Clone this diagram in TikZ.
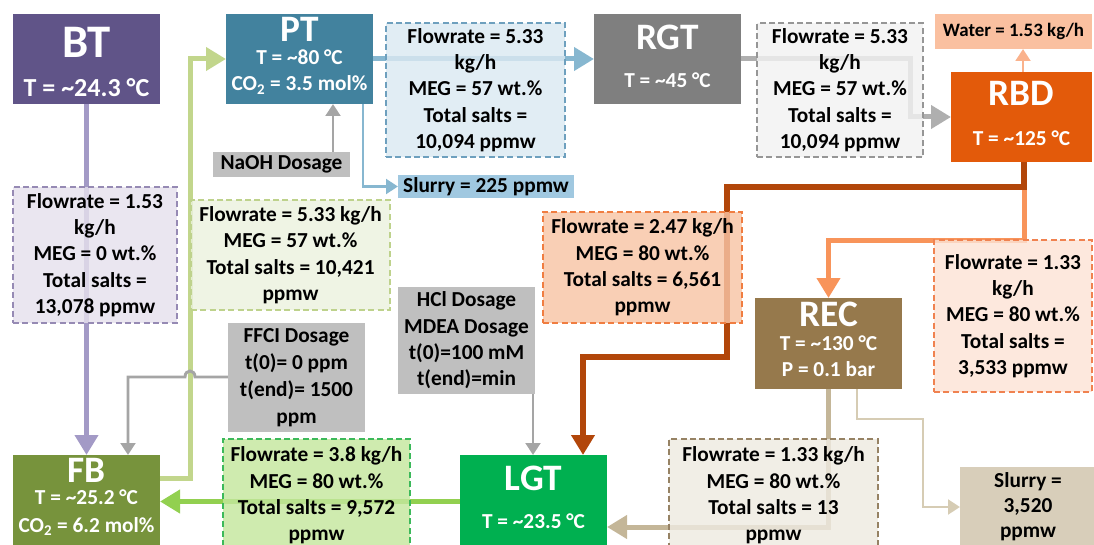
\documentclass[tikz,border=0pt]{standalone}
\usepackage{fontspec}
\setmainfont{Carlito}
\usetikzlibrary{arrows.meta,fit,calc}
\pgfdeclarelayer{bg}
\pgfsetlayers{bg,main}
\definecolor{cBT}{RGB}{96,84,136}
\definecolor{cBTl}{RGB}{163,154,198}
\definecolor{cBTf}{RGB}{229,224,237}
\definecolor{cBTd}{RGB}{150,138,180}
\definecolor{cPT}{RGB}{66,130,158}
\definecolor{cPTl}{RGB}{135,183,208}
\definecolor{cPTf}{RGB}{219,233,242}
\definecolor{cPTd}{RGB}{110,160,190}
\definecolor{cSl}{RGB}{160,200,224}
\definecolor{cRGT}{RGB}{127,127,127}
\definecolor{cRGTl}{RGB}{175,175,175}
\definecolor{cRGTf}{RGB}{242,242,242}
\definecolor{cRGTd}{RGB}{150,150,150}
\definecolor{cRBD}{RGB}{227,90,10}
\definecolor{cWat}{RGB}{250,192,160}
\definecolor{cWatl}{RGB}{250,178,140}
\definecolor{cBrn}{RGB}{178,70,10}
\definecolor{cOrf}{RGB}{248,196,165}
\definecolor{cOrd}{RGB}{240,125,65}
\definecolor{cOrl}{RGB}{248,148,90}
\definecolor{cREC}{RGB}{150,121,76}
\definecolor{cRECf}{RGB}{252,227,213}
\definecolor{cRECd}{RGB}{240,130,80}
\definecolor{cTan}{RGB}{196,182,152}
\definecolor{cTanl}{RGB}{214,204,180}
\definecolor{cSlb}{RGB}{216,206,186}
\definecolor{cTanf}{RGB}{238,234,225}
\definecolor{cTand}{RGB}{150,130,100}
\definecolor{cLGT}{RGB}{0,176,80}
\definecolor{cLGTl}{RGB}{146,208,80}
\definecolor{cLGTf}{RGB}{196,230,158}
\definecolor{cLGTd}{RGB}{60,185,90}
\definecolor{cFB}{RGB}{119,147,60}
\definecolor{cFBl}{RGB}{194,214,140}
\definecolor{cFBf}{RGB}{235,241,222}
\definecolor{cFBd}{RGB}{190,210,140}
\definecolor{cDos}{RGB}{191,191,191}
\definecolor{cDosl}{RGB}{165,165,165}
\begin{document}
\begin{tikzpicture}[x=0.75pt,y=-0.75pt,
  box/.style={inner sep=0pt, outer sep=0pt},
  unit/.style={box, fill=#1},
  flow/.style 2 args={box, fill=#1, draw=#2, line width=1.1pt, dash pattern=on 4.5pt off 2.5pt, fill opacity=0.82},
  plain/.style={box, fill=#1},
  txt/.style={inner sep=0pt, align=center, font=\bfseries\fontsize{16}{19.8}\selectfont},
  ttl/.style={inner sep=0pt, anchor=base, text=white, font=\bfseries\fontsize{28}{30}\selectfont},
  sub/.style={inner sep=0pt, anchor=base, text=white, font=\bfseries\fontsize{16}{18}\selectfont},
  bigarrow/.style={-{Triangle[width=17pt,length=15pt]}},
  smallarrow/.style={-{Triangle[width=11pt,length=9pt]}},
  thick5/.style={line width=3.75pt},
  thin3/.style={line width=2.2pt}
]
\useasboundingbox (0,0) rectangle (1094,545);

% ---- unit boxes
\node[unit=cBT, fit={(13,14)(160,104)}] (BT) {};
\node[ttl, font=\bfseries\fontsize{35}{38}\selectfont] (BTt) at (86.5,58) {BT};
\node[sub, font=\bfseries\fontsize{19.5}{21}\selectfont] (BTs) at (86.5,97) {T = \textasciitilde24.3 °C};

\node[unit=cPT, fit={(226,14)(373,104)}] (PT) {};
\node[ttl] (PTt) at (299.5,42) {PT};
\node[sub] (PTs) at (299.5,65) {T = \textasciitilde80 °C};
\node[sub] (PTs2) at (299.5,91) {CO\textsubscript{2} = 3.5 mol\%};

\node[unit=cRGT, fit={(594,14)(741,104)}] (RGT) {};
\node[ttl] (RGTt) at (667.5,50) {RGT};
\node[sub] (RGTs) at (667.5,88) {T = \textasciitilde45 °C};

\node[unit=cRBD, fit={(951,72)(1092,162)}] (RBD) {};
\node[ttl] (RBDt) at (1021.5,106) {RBD};
\node[sub] (RBDs) at (1021.5,146) {T = \textasciitilde125 °C};

\node[unit=cREC, fit={(755,298)(902,389)}] (REC) {};
\node[ttl] (RECt) at (828.5,326) {REC};
\node[sub] (RECs) at (828.5,350) {T = \textasciitilde130 °C};
\node[sub] (RECs2) at (828.5,376) {P = 0.1 bar};

\node[unit=cLGT, fit={(460,455)(607,548)}] (LGT) {};
\node[ttl] (LGTt) at (533.5,490) {LGT};
\node[sub] (LGTs) at (533.5,528) {T = \textasciitilde23.5 °C};

\node[unit=cFB, fit={(13,455)(160,548)}] (FB) {};
\node[ttl] (FBt) at (86.5,482) {FB};
\node[sub] (FBs) at (86.5,504) {T = \textasciitilde25.2 °C};
\node[sub] (FBs2) at (86.5,532) {CO\textsubscript{2} = 6.2 mol\%};

% ---- stream boxes
\node[flow={cBTf}{cBTd}, fit={(13,187)(177,323)}] (fBT) {};
\node[txt] (fBTx) at (fBT.center) {Flowrate = 1.53\\kg/h\\MEG = 0 wt.\%\\Total salts =\\13,078 ppmw};
\node[flow={cPTf}{cPTd}, fit={(386,23)(565,157)}] (fPT) {};
\node[txt] (fPTx) at (fPT.center) {Flowrate = 5.33\\kg/h\\MEG = 57 wt.\%\\Total salts =\\10,094 ppmw};
\node[flow={cRGTf}{cRGTd}, fit={(757,23)(923,157)}] (fRGT) {};
\node[txt] (fRGTx) at (fRGT.center) {Flowrate = 5.33\\kg/h\\MEG = 57 wt.\%\\Total salts =\\10,094 ppmw};
\node[flow={cFBf}{cFBd}, fit={(191,200)(390,310)}] (fFB) {};
\node[txt] (fFBx) at (fFB.center) {Flowrate = 5.33 kg/h\\MEG = 57 wt.\%\\Total salts = 10,421\\ppmw};
\node[flow={cOrf}{cOrd}, fit={(543,212)(742,323)}] (fRBD) {};
\node[txt] (fRBDx) at (fRBD.center) {Flowrate = 2.47 kg/h\\MEG = 80 wt.\%\\Total salts = 6,561\\ppmw};
\node[flow={cRECf}{cRECd}, fit={(934,240)(1092,392)}] (fREC) {};
\node[txt] (fRECx) at (fREC.center) {Flowrate = 1.33\\kg/h\\MEG = 80 wt.\%\\Total salts =\\3,533 ppmw};
\node[flow={cTanf}{cTand}, fit={(669,439)(878,552)}] (fRECb) {};
\node[txt] (fRECbx) at (fRECb.center) {Flowrate = 1.33 kg/h\\MEG = 80 wt.\%\\Total salts = 13\\ppmw};
\node[flow={cLGTf}{cLGTd}, fit={(223,439)(410,552)}] (fLGT) {};
\node[txt] (fLGTx) at (fLGT.center) {Flowrate = 3.8 kg/h\\MEG = 80 wt.\%\\Total salts = 9,572\\ppmw};

% ---- dosage / product boxes
\node[plain=cDos, fit={(213,152)(350,177)}] (NaOH) {};
\node[txt] (NaOHx) at (NaOH.center) {NaOH Dosage};
\node[plain=cDos, fit={(228,323)(365,432)}] (FFCI) {};
\node[txt, font=\bfseries\fontsize{16}{20.3}\selectfont] (FFCIx) at (FFCI.center) {FFCI Dosage\\t(0)= 0 ppm\\t(end)= 1500\\ppm};
\node[plain=cDos, fit={(398,287)(535,394)}] (HCl) {};
\node[txt] (HClx) at (HCl.center) {HCl Dosage\\MDEA Dosage\\t(0)=100 mM\\t(end)=min};
\node[plain=cSl, fit={(398,175)(574,198)}] (Sl1) {};
\node[txt] (Sl1x) at (Sl1.center) {Slurry = 225 ppmw};
\node[plain=cWat, fit={(935,14)(1092,49)}] (Wat) {};
\node[txt, font=\bfseries\fontsize{14.2}{16}\selectfont] (Watx) at (Wat.center) {Water = 1.53 kg/h};
\node[plain=cSlb, fit={(960,467)(1096,547)}] (Sl2) {};
\node[txt, font=\bfseries\fontsize{16}{18.8}\selectfont] (Sl2x) at (Sl2.center) {Slurry =\\3,520\\ppmw};

% ---- connectors
\coordinate (g1) at (190,478);
\coordinate (s1) at (363,186);
\coordinate (n1) at (333,0);
\coordinate (r1) at (910,117);
\coordinate (b1) at (1024,187);
\coordinate (b2) at (727,187);
\coordinate (b3) at (727,357);
\coordinate (b4) at (583,357);
\coordinate (o1) at (1024,240);
\coordinate (t1) at (828,527);
\coordinate (u1) at (857,419);
\coordinate (u2) at (923,419);
\coordinate (u3) at (923,507);
\coordinate (h1) at (533,0);
\coordinate (f1) at (128,377);
\coordinate (w1) at (1023,0);

\begin{pgfonlayer}{bg}
\draw[thick5, draw=cBTl, bigarrow] (BT.south) -- (FB.north);
\draw[thick5, draw=cFBl, bigarrow] (FB.east |- g1) -- (g1) |- (PT.west);
\draw[thick5, draw=cPTl, bigarrow] (PT.east) -- (RGT.west);
\draw[thin3, draw=cPTl, smallarrow] (PT.south -| s1) |- (Sl1.west);
\draw[thin3, draw=cDosl, smallarrow] (NaOH.north -| n1) -- (PT.south -| n1);
\draw[thick5, draw=cRGTl, bigarrow] (RGT.east) -| (r1) -- (RBD.west);
\draw[thin3, draw=cWatl, smallarrow] (RBD.north -| w1) -- (Wat.south -| w1);
\draw[thick5, draw=cOrl, bigarrow] (RBD.south -| o1) -- (o1) -| (REC.north);
\draw[line width=4.2pt, draw=cBrn, bigarrow] (RBD.south -| b1) -- (b1) -- (b2) -- (b3) -- (b4) -- (LGT.north -| b4);
\draw[thick5, draw=cTan, bigarrow] (REC.south -| t1) -- (t1) -- (LGT.east |- t1);
\draw[thin3, draw=cTanl, smallarrow] (REC.south -| u1) -- (u1) -- (u2) -- (u3) -- (Sl2.west |- u3);
\draw[thin3, draw=cDosl, smallarrow] (HCl.south -| h1) -- (LGT.north -| h1);
\draw[thick5, draw=cLGTl, bigarrow] (LGT.west |- FB.east) -- (FB.east);
\draw[thin3, draw=cDosl, smallarrow] (FFCI.west |- f1) -- (195,377) .. controls (195,369) and (185,369) .. (185,377) -- (f1) -- (FB.north -| f1);
\end{pgfonlayer}
\end{tikzpicture}
\end{document}
